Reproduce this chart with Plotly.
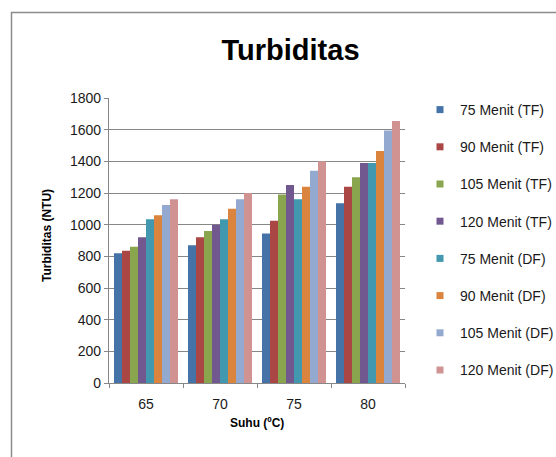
import plotly.graph_objects as go

# Data
suhu = ["65", "70", "75", "80"]
series_names = [
    "75 Menit (TF)", "90 Menit (TF)", "105 Menit (TF)", "120 Menit (TF)",
    "75 Menit (DF)", "90 Menit (DF)", "105 Menit (DF)", "120 Menit (DF)",
]
tf_75 = [820, 870, 945, 1135]
tf_90 = [835, 920, 1025, 1240]
tf_105 = [860, 960, 1190, 1300]
tf_120 = [920, 1000, 1250, 1390]
df_75 = [1035, 1035, 1160, 1390]
df_90 = [1060, 1100, 1240, 1465]
df_105 = [1125, 1160, 1340, 1595]
df_120 = [1160, 1200, 1400, 1655]
series_values = [tf_75, tf_90, tf_105, tf_120, df_75, df_90, df_105, df_120]
colors = ["#4572A7", "#AA4643", "#89A54E", "#71588F",
          "#4198AF", "#DB843D", "#93A9CF", "#D19392"]
y_ticks = list(range(0, 1801, 200))

W, H = 556, 457
ML, MR, MT, MB = 109, 151, 98, 74
PW, PH = W - ML - MR, H - MT - MB


def px_x(px):
    return (px - ML) / PW


def px_y(py):
    return (H - MB - py) / PH


FONT = "Arial, Liberation Sans, sans-serif"
GRID = "#878787"

fig = go.Figure()
for name, vals, col in zip(series_names, series_values, colors):
    fig.add_trace(go.Bar(
        x=suhu, y=vals, name=name, marker=dict(color=col, line=dict(width=0)),
        showlegend=False, legendgroup=name,
    ))
# small square legend keys
for name, col in zip(series_names, colors):
    fig.add_trace(go.Scatter(
        x=[None], y=[None], mode="markers", name=name, legendgroup=name,
        marker=dict(symbol="square", size=7, color=col),
    ))

fig.update_layout(
    width=W, height=H,
    margin=dict(l=ML, r=MR, t=MT, b=MB, autoexpand=False),
    paper_bgcolor="white", plot_bgcolor="white",
    font=dict(family=FONT, size=14, color="#1a1a1a"),
    barmode="group", bargap=0.135, bargroupgap=0,
    title=dict(text="<b>Turbiditas</b>", x=290.5 / W, xanchor="center",
               y=1 - 50 / H, yanchor="middle",
               font=dict(family=FONT, size=29, color="black")),
    legend=dict(x=px_x(420), xanchor="left", y=px_y(94), yanchor="top",
                font=dict(family=FONT, size=14, color="#1a1a1a"),
                tracegroupgap=16, bgcolor="rgba(0,0,0,0)", itemwidth=30,
                maxheight=420),
    xaxis=dict(type="category", showline=True, linecolor=GRID, linewidth=1.3,
               ticks="outside", tickson="boundaries", ticklen=4, tickcolor=GRID,
               tickwidth=1.3, showgrid=False, ticklabelstandoff=8,
               tickfont=dict(size=14)),
    yaxis=dict(range=[0, 1800], tickvals=y_ticks, showline=True,
               linecolor=GRID, linewidth=1.3, ticks="outside", ticklen=4,
               tickcolor=GRID, tickwidth=1.3, showgrid=True, gridcolor=GRID,
               gridwidth=1.3, zeroline=False, tickfont=dict(size=14)),
    annotations=[
        dict(text="<b>Turbiditas (NTU)</b>", textangle=-90, xref="paper",
             yref="paper", x=px_x(47), y=px_y(236), showarrow=False,
             xanchor="center", yanchor="middle",
             font=dict(family=FONT, size=12, color="black")),
        dict(text="<b>Suhu (ºC)</b>", xref="paper", yref="paper",
             x=px_x(257), y=px_y(423), showarrow=False,
             xanchor="center", yanchor="middle",
             font=dict(family=FONT, size=12, color="black")),
    ],
    shapes=[dict(type="rect", xref="paper", yref="paper",
                 x0=px_x(11.5), x1=px_x(W + 20), y0=px_y(12.5), y1=px_y(H + 20),
                 line=dict(color="#8c8c8c", width=1.5), layer="below")],
)

fig.write_html("out.html")
